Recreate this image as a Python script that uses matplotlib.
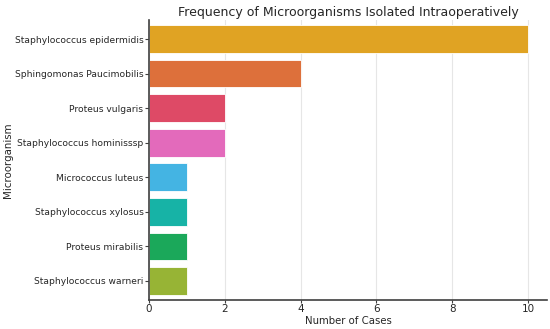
import matplotlib
matplotlib.use("Agg")
import matplotlib.pyplot as plt

organisms = ["Staphylococcus epidermidis", "Sphingomonas Paucimobilis", "Proteus vulgaris",
             "Staphylococcus hominisssp", "Micrococcus luteus", "Staphylococcus xylosus",
             "Proteus mirabilis", "Staphylococcus warneri"]
cases = [10, 4, 2, 2, 1, 1, 1, 1]
colors = ["#E0A323", "#DD703B", "#DE4A66", "#E36ABB", "#44B4E3", "#17B3A6", "#1BA85A", "#97B435"]
xticks = [0, 2, 4, 6, 8, 10]

plt.rcParams['font.family'] = ['DejaVu Sans']
fig = plt.figure(figsize=(5.5, 3.29), dpi=100)
ax = fig.add_axes([149/550, 1-300/329, (547-149)/550, (300-20)/329])
y = list(range(len(organisms)))
ax.barh(y, cases, color=colors, height=0.8, edgecolor="white", linewidth=0.6, zorder=2)
ax.set_yticks(y)
ax.set_yticklabels(organisms, fontsize=6.6, color="#262626")
ax.set_ylim(7.55, -0.55)
ax.set_xlim(0, 10.5)
ax.set_xticks(xticks)
ax.set_xticklabels([str(t) for t in xticks], fontsize=7.5, color="#262626")
ax.xaxis.grid(True, color="#e6e6e6", linewidth=0.8, zorder=0)
ax.set_axisbelow(True)
for s in ["top", "right"]:
    ax.spines[s].set_visible(False)
for s in ["left", "bottom"]:
    ax.spines[s].set_color("#404040")
    ax.spines[s].set_linewidth(1.2)
ax.tick_params(axis="y", length=3, width=0.8, color="#404040", pad=1)
ax.tick_params(axis="x", length=2.5, width=0.8, color="#404040", pad=0.5)
ax.set_xlabel("Number of Cases", fontsize=7.3, color="#262626", labelpad=1)
ax.set_ylabel("Microorganism", fontsize=7.4, color="#262626", va="center")
ax.yaxis.set_label_coords(-141/398, 0.5)
ax.set_title("Frequency of Microorganisms Isolated Intraoperatively", fontsize=9.0, color="#262626", pad=3)
fig.savefig("out.png", dpi=100)
